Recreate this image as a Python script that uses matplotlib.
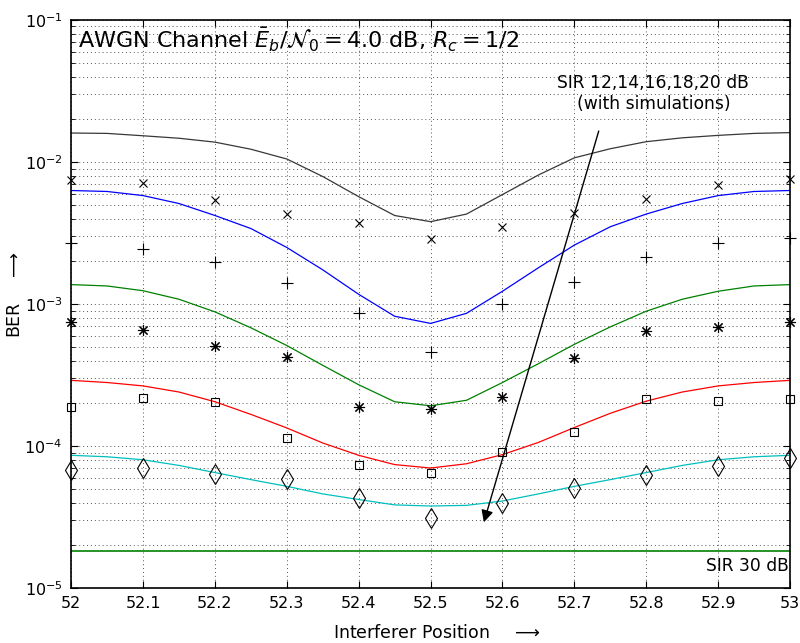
import numpy as np
import matplotlib
matplotlib.use("Agg")
import matplotlib.pyplot as plt

plt.rcParams['mathtext.fontset'] = 'dejavusans'
plt.rcParams['font.family'] = ['DejaVu Sans']

# interferer position for the analytic curves (0.05 steps)
pos_curve = [52.0, 52.05, 52.1, 52.15, 52.2, 52.25, 52.3, 52.35, 52.4, 52.45, 52.5,
             52.55, 52.6, 52.65, 52.7, 52.75, 52.8, 52.85, 52.9, 52.95, 53.0]
ber_sir12 = [0.0160, 0.0159, 0.0153, 0.0147, 0.0138, 0.0123, 0.0105, 0.0079, 0.0057, 0.0042, 0.0038,
             0.0043, 0.0059, 0.0081, 0.0107, 0.0124, 0.0139, 0.0148, 0.0154, 0.0159, 0.0161]
ber_sir14 = [0.0063, 0.0062, 0.0058, 0.0051, 0.0042, 0.0034, 0.0025, 0.00174, 0.00117, 0.00082, 0.00073,
             0.00086, 0.00123, 0.0018, 0.0026, 0.0035, 0.0043, 0.0051, 0.0058, 0.0062, 0.0063]
ber_sir16 = [0.00137, 0.00134, 0.00124, 0.00108, 0.00088, 0.00068, 0.00051, 0.00037, 0.00027, 0.000205, 0.000192,
             0.00021, 0.00028, 0.00038, 0.00052, 0.00069, 0.00089, 0.00108, 0.00123, 0.00134, 0.00137]
ber_sir18 = [0.00029, 0.00028, 0.000265, 0.00024, 0.000205, 0.000167, 0.000134, 0.000105, 8.6e-5, 7.4e-5, 7.0e-5,
             7.5e-5, 8.7e-5, 0.000106, 0.000135, 0.00017, 0.000207, 0.00024, 0.000265, 0.00028, 0.00029]
ber_sir20 = [8.6e-5, 8.4e-5, 8.0e-5, 7.3e-5, 6.5e-5, 5.8e-5, 5.2e-5, 4.6e-5, 4.2e-5, 3.85e-5, 3.78e-5,
             3.82e-5, 4.1e-5, 4.6e-5, 5.2e-5, 5.8e-5, 6.5e-5, 7.3e-5, 8.0e-5, 8.4e-5, 8.6e-5]
ber_sir30 = [1.82e-5] * 21

# simulation points (0.1 steps)
pos_sim = [52.0, 52.1, 52.2, 52.3, 52.4, 52.5, 52.6, 52.7, 52.8, 52.9, 53.0]
sim_sir12 = [0.0075, 0.0071, 0.0054, 0.0043, 0.0037, 0.00285, 0.00347, 0.0044, 0.0055, 0.0069, 0.0076]
sim_sir14 = [0.0027, 0.00244, 0.00199, 0.00141, 0.00087, 0.00046, 0.00100, 0.00142, 0.00215, 0.00267, 0.0029]
sim_sir16 = [0.00075, 0.000656, 0.000509, 0.000425, 0.000189, 0.000181, 0.000222, 0.000414, 0.000646, 0.000691, 0.00075]
sim_sir18 = [0.000189, 0.000217, 0.000203, 0.000113, 7.4e-5, 6.5e-5, 9.1e-5, 0.000126, 0.000213, 0.000208, 0.000213]
sim_sir20 = [6.8e-5, 7.0e-5, 6.4e-5, 5.9e-5, 4.3e-5, 3.1e-5, 4.0e-5, 5.1e-5, 6.25e-5, 7.2e-5, 8.3e-5]

fig = plt.figure(figsize=(8, 6.43), dpi=100)
ax = fig.add_axes([0.089, 0.0855, 0.8985, 0.8834])

lw = 0.9
ax.semilogy(pos_curve, ber_sir12, color='#383838', lw=lw)
ax.semilogy(pos_curve, ber_sir14, color='b', lw=lw)
ax.semilogy(pos_curve, ber_sir16, color=(0, 0.5, 0), lw=lw)
ax.semilogy(pos_curve, ber_sir18, color='r', lw=lw)
ax.semilogy(pos_curve, ber_sir20, color=(0, 0.75, 0.75), lw=lw)
ax.semilogy(pos_curve, ber_sir30, color=(0, 0.5, 0), lw=lw + 0.3)

mk = dict(linestyle='none', color='k', mfc='none', mew=0.8, clip_on=False, zorder=5)
ax.semilogy(pos_sim, sim_sir12, marker='x', ms=5.5, **mk)
ax.semilogy(pos_sim, sim_sir14, marker='+', ms=8, **mk)
ax.semilogy(pos_sim, sim_sir16, marker=(8, 2, 0), ms=8, **mk)
ax.semilogy(pos_sim, sim_sir18, marker='s', ms=6, **mk)
ax.semilogy(pos_sim, sim_sir20, marker='d', ms=10, **mk)

ax.set_xlim(52, 53)
ax.set_ylim(1e-5, 1e-1)
ax.set_xticks(np.round(np.arange(52, 53.01, 0.1), 1))
ax.set_xticklabels(['52', '52.1', '52.2', '52.3', '52.4', '52.5', '52.6', '52.7', '52.8', '52.9', '53'])

ax.grid(True, which='major', axis='x', linestyle=(0, (1, 3)), color='#555555', lw=0.7)
ax.grid(True, which='both', axis='y', linestyle=(0, (1, 3)), color='#555555', lw=0.7)
ax.tick_params(which='both', direction='in', top=True, right=True, labelsize=11.5)
ax.tick_params(which='major', length=5, pad=6)
ax.tick_params(which='minor', length=3)
for s in ax.spines.values():
    s.set_linewidth(1.2)

ax.text(52.01, 0.072, r'AWGN Channel $\bar{E}_b/\mathcal{N}_0 = 4.0$ dB, $R_c = 1/2$',
        fontsize=16, va='center', ha='left')
ax.text(52.81, 0.0305, 'SIR 12,14,16,18,20 dB\n(with simulations)', fontsize=12.3,
        ha='center', va='center', linespacing=1.2)
ax.annotate('', xy=(52.573, 2.78e-5), xytext=(52.735, 0.01725),
            arrowprops=dict(arrowstyle='-|>', color='k', lw=1.0, mutation_scale=18))
ax.text(52.998, 1.44e-5, 'SIR 30 dB', fontsize=12.3, ha='right', va='center')

ax.set_xlabel(r'Interferer Position    $\longrightarrow$', fontsize=12.5, va='center')
ax.set_ylabel(r'BER    $\longrightarrow$', fontsize=12.5, va='center')
ax.xaxis.set_label_coords(0.509, -0.079)
ax.yaxis.set_label_coords(-0.078, 0.516)

fig.savefig('out.png', dpi=100)
